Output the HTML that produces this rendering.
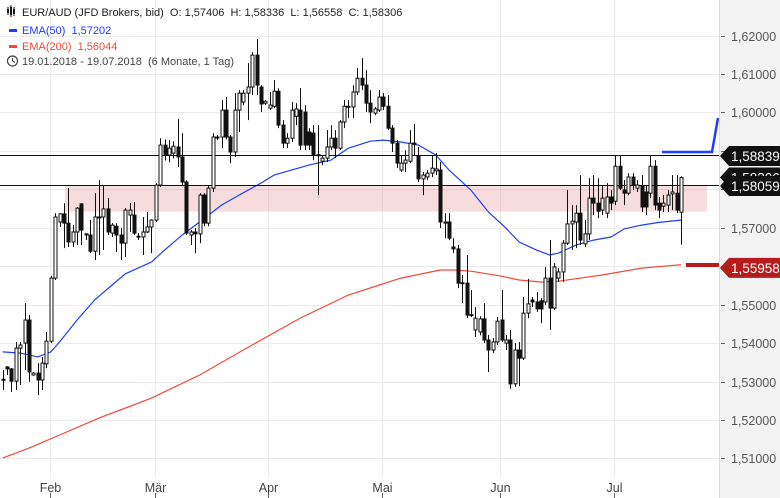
<!DOCTYPE html>
<html><head><meta charset="utf-8"><style>
html,body{margin:0;padding:0;background:#fff;}
#wrap{position:relative;width:780px;height:498px;overflow:hidden;font-family:"Liberation Sans",sans-serif;}
svg text{font-family:"Liberation Sans",sans-serif;}
</style></head><body>
<div id="wrap">
<svg id="chart" width="780" height="498" viewBox="0 0 780 498" xmlns="http://www.w3.org/2000/svg"></svg>
</div>
<script>
const opens=[1.5306,1.5338,1.5333,1.5301,1.5387,1.5400,1.5460,1.5317,1.5322,1.5304,1.5346,1.5405,1.5569,1.5715,1.5736,1.5712,1.5663,1.5689,1.5762,1.5684,1.5681,1.5639,1.5726,1.5728,1.5749,1.5686,1.5704,1.5681,1.5660,1.5733,1.5733,1.5678,1.5676,1.5689,1.5702,1.5720,1.5811,1.5915,1.5889,1.5894,1.5910,1.5884,1.5819,1.5681,1.5689,1.5684,1.5785,1.5712,1.5803,1.5936,1.5936,1.6006,1.5936,1.5897,1.6006,1.6027,1.6050,1.6066,1.6149,1.6066,1.6024,1.6011,1.6016,1.6055,1.5967,1.5920,1.5933,1.5990,1.6006,1.6001,1.5949,1.5946,1.5890,1.5873,1.5881,1.5910,1.5933,1.5907,1.5975,1.6016,1.6014,1.6053,1.6089,1.6071,1.6024,1.5998,1.6006,1.6040,1.6016,1.5959,1.5920,1.5850,1.5868,1.5873,1.5918,1.5886,1.5827,1.5832,1.5842,1.5848,1.5850,1.5715,1.5715,1.5650,1.5645,1.5557,1.5556,1.5474,1.5434,1.5429,1.5463,1.5408,1.5382,1.5403,1.5460,1.5400,1.5408,1.5294,1.5382,1.5361,1.5478,1.5512,1.5507,1.5510,1.5507,1.5569,1.5491,1.5569,1.5585,1.5660,1.5710,1.5715,1.5738,1.5658,1.5684,1.5777,1.5764,1.5746,1.5738,1.5780,1.5769,1.5860,1.5798,1.5790,1.5832,1.5803,1.5808,1.5793,1.5790,1.5860,1.5764,1.5756,1.5759,1.5788,1.5790,1.57406];
const highs=[1.5330,1.5340,1.5335,1.5403,1.5403,1.5504,1.5473,1.5325,1.5348,1.5364,1.5429,1.5575,1.5738,1.5738,1.5764,1.5803,1.5707,1.5754,1.5764,1.5686,1.5720,1.5790,1.5824,1.5811,1.5777,1.5712,1.5712,1.5699,1.5751,1.5764,1.5767,1.5686,1.5728,1.5741,1.5722,1.5816,1.5933,1.5930,1.5928,1.5925,1.5983,1.5946,1.5824,1.5694,1.5699,1.5790,1.5790,1.5811,1.5946,1.5941,1.6032,1.6040,1.5941,1.6050,1.6058,1.6058,1.6128,1.6157,1.6191,1.6071,1.6032,1.6053,1.6084,1.6063,1.5980,1.5946,1.6027,1.6024,1.6063,1.6019,1.5959,1.5967,1.5967,1.5889,1.5954,1.5967,1.5954,1.5980,1.6032,1.6032,1.6071,1.6115,1.6141,1.6110,1.6058,1.6014,1.6058,1.6050,1.6045,1.5967,1.5928,1.5889,1.5902,1.5954,1.5970,1.5910,1.5845,1.5850,1.5889,1.5894,1.5871,1.5738,1.5738,1.5673,1.5655,1.5577,1.5629,1.5538,1.5494,1.5470,1.5504,1.5421,1.5413,1.5468,1.5538,1.5421,1.5434,1.5400,1.5403,1.5520,1.5567,1.5520,1.5533,1.5517,1.5598,1.5668,1.5608,1.5595,1.5668,1.5798,1.5759,1.5759,1.5837,1.5720,1.5829,1.5837,1.5829,1.5811,1.5816,1.5798,1.5889,1.5889,1.5824,1.5842,1.5842,1.5824,1.5837,1.5811,1.5889,1.5876,1.5780,1.5785,1.5798,1.5837,1.5837,1.58336];
const lows=[1.5278,1.5317,1.5273,1.5278,1.5291,1.5330,1.5299,1.5315,1.5265,1.5278,1.5335,1.5400,1.5564,1.5702,1.5647,1.5650,1.5650,1.5655,1.5655,1.5668,1.5634,1.5616,1.5629,1.5642,1.5681,1.5676,1.5637,1.5616,1.5624,1.5689,1.5681,1.5668,1.5629,1.5686,1.5634,1.5715,1.5806,1.5875,1.5870,1.5880,1.5858,1.5811,1.5681,1.5655,1.5634,1.5660,1.5704,1.5704,1.5793,1.5928,1.5907,1.5930,1.5868,1.5884,1.5949,1.6019,1.5980,1.6045,1.6045,1.6001,1.6019,1.6006,1.6011,1.5959,1.5907,1.5907,1.5923,1.5967,1.5902,1.5902,1.5902,1.5876,1.5785,1.5863,1.5871,1.5902,1.5881,1.5902,1.5959,1.5985,1.5985,1.6045,1.6058,1.6001,1.5972,1.5993,1.6001,1.6006,1.5954,1.5897,1.5855,1.5845,1.5845,1.5868,1.5889,1.5819,1.5785,1.5824,1.5832,1.5837,1.5699,1.5673,1.5668,1.5634,1.5543,1.5504,1.5465,1.5468,1.5416,1.5420,1.5400,1.5325,1.5374,1.5395,1.5403,1.5382,1.5281,1.5286,1.5288,1.5356,1.5465,1.5494,1.5481,1.5452,1.5499,1.5434,1.5486,1.5559,1.5559,1.5655,1.5642,1.5647,1.5655,1.5650,1.5668,1.5733,1.5725,1.5733,1.5725,1.5746,1.5759,1.5798,1.5759,1.5785,1.5798,1.5793,1.5741,1.5733,1.5777,1.5746,1.5725,1.5741,1.5741,1.5746,1.5738,1.56558];
const closes=[1.5304,1.5333,1.5301,1.5387,1.5395,1.5460,1.5325,1.5322,1.5304,1.5348,1.5405,1.5569,1.5728,1.5736,1.5712,1.5663,1.5689,1.5751,1.5694,1.5682,1.5639,1.5728,1.5728,1.5749,1.5689,1.5707,1.5681,1.5660,1.5746,1.5746,1.5686,1.5676,1.5689,1.5702,1.5720,1.5811,1.5915,1.5889,1.5907,1.5912,1.5884,1.5819,1.5686,1.5689,1.5684,1.5785,1.5712,1.5803,1.5936,1.5934,1.6006,1.5936,1.5897,1.6006,1.6050,1.6050,1.6066,1.6149,1.6071,1.6022,1.6029,1.6019,1.6055,1.5967,1.5920,1.5933,1.6006,1.6009,1.5915,1.5915,1.5915,1.5889,1.5888,1.5881,1.5910,1.5933,1.5907,1.5975,1.6016,1.6014,1.6053,1.6089,1.6071,1.6024,1.6001,1.6009,1.6040,1.6016,1.5959,1.5920,1.5868,1.5868,1.5876,1.5920,1.5920,1.5827,1.5837,1.5842,1.5855,1.5853,1.5715,1.5712,1.5673,1.5645,1.5556,1.5555,1.5473,1.5472,1.5465,1.5463,1.5408,1.5382,1.5403,1.5457,1.5408,1.5408,1.5294,1.5382,1.5361,1.5478,1.5502,1.5507,1.5489,1.5489,1.5569,1.5491,1.5598,1.5585,1.5660,1.5710,1.5717,1.5738,1.5668,1.5684,1.5777,1.5764,1.5743,1.5777,1.5780,1.5764,1.5860,1.5803,1.5790,1.5832,1.5811,1.5811,1.5754,1.5754,1.5860,1.5759,1.5746,1.5764,1.5785,1.5793,1.5746,1.58306];
const ema50Idx=[0,4,8,11,13,17,21,25,28,34,37,41,45,50,54,59,62,66,70,75,79,84,87,91,95,99,102,107,111,115,118,122,125,127,131,135,139,142,146,150,155];
const ema50Val=[1.5377,1.5374,1.5364,1.5377,1.5403,1.5460,1.5512,1.5551,1.5580,1.5611,1.5642,1.5681,1.5715,1.5759,1.5785,1.5816,1.5837,1.5850,1.5863,1.5876,1.5907,1.5925,1.5928,1.5923,1.5915,1.5889,1.5850,1.5798,1.5741,1.5699,1.5663,1.5642,1.5629,1.5634,1.5655,1.5668,1.5676,1.5697,1.5707,1.5714,1.5720];
const ema200Idx=[0,6,13,22,34,45,57,68,79,91,100,103,107,114,118,123,127,137,146,155];
const ema200Val=[1.5101,1.5127,1.5161,1.5205,1.5257,1.5317,1.5395,1.5465,1.5525,1.5569,1.5590,1.5590,1.5587,1.5574,1.5564,1.5559,1.5561,1.5577,1.5595,1.5604];
const yTicks=[1.62,1.61,1.60,1.59,1.58,1.57,1.56,1.55,1.54,1.53,1.52,1.51];
const yTickLabels=["1,62000","1,61000","1,60000","1,59000","1,58000","1,57000","1,56000","1,55000","1,54000","1,53000","1,52000","1,51000"];
const monthLabels=["Feb","Mär","Apr","Mai","Jun","Jul"];
const monthIdx=[10.8,34.8,60.6,86.7,113.6,139.7];
const hLevels=[1.58839,1.58059];
const zoneTop=1.5810, zoneBottom=1.5742;

const NS="http://www.w3.org/2000/svg";
const svg=document.getElementById('chart');
function yS(p){return 35.5+(1.62-p)*3845;}
function xS(i){return 2.7+i*4.376;}
function el(tag,attrs,parent){const e=document.createElementNS(NS,tag);for(const k in attrs)e.setAttribute(k,attrs[k]);(parent||svg).appendChild(e);return e;}

const axBg=el('rect',{x:719,y:0,width:61,height:498,fill:'#f3f3f3'});


el('line',{x1:719.5,y1:0,x2:719.5,y2:498,stroke:'#dcdcdc','stroke-width':1});

const grid=el('g',{});


yTicks.forEach((t,k)=>{
  const y=Math.round(yS(t))+0.5;
  el('line',{x1:0,y1:y,x2:719,y2:y,stroke:'#ebebeb','stroke-width':1},grid);
  el('line',{x1:721,y1:y,x2:725,y2:y,stroke:'#666','stroke-width':1},grid);
  const tx=el('text',{x:731,y:y+4.5,'font-size':'12.5',fill:'#555'});
  tx.textContent=yTickLabels[k];
  
  
});
monthIdx.forEach((m,k)=>{
  const x=Math.round(xS(m))+0.5;
  el('line',{x1:x,y1:0,x2:x,y2:478,stroke:'#ebebeb','stroke-width':1},grid);
  el('line',{x1:x,y1:493,x2:x,y2:498,stroke:'#666','stroke-width':1},grid);
  const tx=el('text',{x:x,y:492,'font-size':'12.5',fill:'#444','text-anchor':'middle'});
  tx.textContent=monthLabels[k];
  
  
});

const zone=el('rect',{x:65,y:yS(zoneTop),width:642,height:yS(zoneBottom)-yS(zoneTop),fill:'rgba(205,70,70,0.19)'});



function pathOf(idx,val){return idx.map((i,k)=>(k?'L':'M')+xS(i).toFixed(1)+' '+yS(val[k]).toFixed(1)).join(' ');}
const e200=el('path',{d:pathOf(ema200Idx,ema200Val),fill:'none',stroke:'#f2493a','stroke-width':1.2});


const e50=el('path',{d:pathOf(ema50Idx,ema50Val),fill:'none',stroke:'#1f3dff','stroke-width':1.2});



hLevels.forEach(l=>{
  const y=Math.round(yS(l))-1.5;
  const ln=el('line',{x1:0,y1:y,x2:719,y2:y,stroke:'#111','stroke-width':1});
  
  
});

const cg=el('g',{});


for(let i=0;i<closes.length;i++){
  const x=Math.round(xS(i))+0.5;
  const o=opens[i],c=closes[i];
  const up=c>=o;
  const top=yS(Math.max(o,c)),bot=yS(Math.min(o,c));
  const wk=el('line',{x1:x,y1:yS(highs[i]),x2:x,y2:yS(lows[i]),stroke:'#111','stroke-width':1},cg);
  
  
  const b=el('rect',{x:x-1.5,y:top,width:3,height:Math.max(1,bot-top),fill:up?'#fff':'#111',stroke:'#111','stroke-width':1},cg);
  
  
}

el('path',{d:'M662 152 L712 152 L718 118',fill:'none',stroke:'#1f3dff','stroke-width':2.5});
el('rect',{x:686,y:263,width:33,height:4,fill:'#b71c1c'});

function tag(p,label,color,name,dy){
  const y=yS(p)+(dy||0);
  const g=el('g',{});
  
  
  el('polygon',{points:`720,${y} 729,${y-10} 780,${y-10} 780,${y+10} 729,${y+10}`,fill:color},g);
  const t=el('text',{x:731,y:y+5,'font-size':'13.5',fill:'#fff'},g);
  t.textContent=label;
}
tag(1.58306,'1,58306','#111','last-price-tag');
tag(1.58839,'1,58839','#111','level-tag-upper',-1);
tag(1.58059,'1,58059','#111','level-tag-lower',-1);
tag(1.55958,'1,55958','#b71c1c','ema200-tag');

const hdr=el('g',{});


[[8,9,13],[11,7,15],[14,9,14]].forEach(a=>{el('line',{x1:a[0],y1:a[1]-2,x2:a[0],y2:a[2]+2,stroke:'#111','stroke-width':1},hdr);el('rect',{x:a[0]-1,y:a[1],width:2,height:a[2]-a[1],fill:'#111'},hdr);});
function txt(x,y,s,col,name){const t=el('text',{x:x,y:y,'font-size':'11',fill:col},hdr);t.setAttributeNS('http://www.w3.org/XML/1998/namespace','xml:space','preserve');t.style.whiteSpace='pre';t.textContent=s;return t;}
txt(22,16,'EUR/AUD (JFD Brokers, bid)  O: 1,57406  H: 1,58336  L: 1,56558  C: 1,58306','#222','title-ohlc');
el('rect',{x:9,y:29,width:8,height:3,fill:'#1f3dff'},hdr);
txt(22,34,'EMA(50)  1,57202','#1f3dff','legend-ema50');
el('rect',{x:9,y:45,width:8,height:3,fill:'#f2493a'},hdr);
txt(22,50,'EMA(200)  1,56044','#f2493a','legend-ema200');
el('circle',{cx:12.5,cy:61,r:5,fill:'none',stroke:'#444','stroke-width':1.2},hdr);
el('path',{d:'M12.5 58 L12.5 61 L15 62.5',fill:'none',stroke:'#444','stroke-width':1.1},hdr);
txt(22,65,'19.01.2018 - 19.07.2018  (6 Monate, 1 Tag)','#444','date-range');
</script>
</body></html>
